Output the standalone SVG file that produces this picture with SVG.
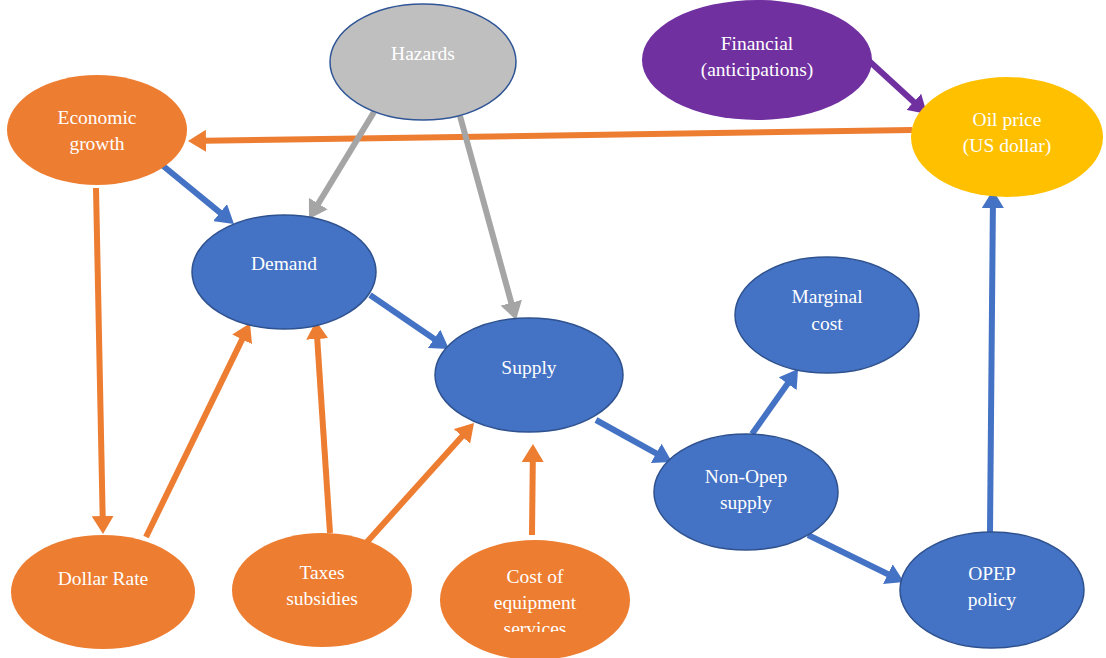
<svg xmlns="http://www.w3.org/2000/svg" width="1106" height="658" viewBox="0 0 1106 658">
<style>
.lbl{font-family:"Liberation Serif","Times New Roman",serif;font-size:19.5px;fill:#ffffff;text-anchor:middle}
.c{fill:none;stroke-width:6}
.o{stroke:#ED7D31}.b{stroke:#4472C4}.g{stroke:#A5A5A5}.p{stroke:#7030A0}
</style>
<defs>
<marker id="ao" markerUnits="userSpaceOnUse" viewBox="0 0 18 22" markerWidth="18" markerHeight="22" refX="2" refY="11" orient="auto"><path d="M0,0 L18,11 L0,22 z" fill="#ED7D31"/></marker>
<marker id="ab" markerUnits="userSpaceOnUse" viewBox="0 0 18 22" markerWidth="18" markerHeight="22" refX="2" refY="11" orient="auto"><path d="M0,0 L18,11 L0,22 z" fill="#4472C4"/></marker>
<marker id="ag" markerUnits="userSpaceOnUse" viewBox="0 0 18 22" markerWidth="18" markerHeight="22" refX="2" refY="11" orient="auto"><path d="M0,0 L18,11 L0,22 z" fill="#A5A5A5"/></marker>
<marker id="ap" markerUnits="userSpaceOnUse" viewBox="0 0 18 22" markerWidth="18" markerHeight="22" refX="2" refY="11" orient="auto"><path d="M0,0 L18,11 L0,22 z" fill="#7030A0"/></marker>
<clipPath id="costclip"><rect x="430" y="530" width="210" height="102"/></clipPath>
</defs>
<rect width="1106" height="658" fill="#ffffff"/>
<g id="connectors">
<line class="c o" x1="912" y1="130" x2="204" y2="140.8" marker-end="url(#ao)"/>
<line class="c p" x1="868" y1="60" x2="915.2" y2="103.2" marker-end="url(#ap)"/>
<line class="c b" x1="162" y1="165" x2="221.6" y2="213.9" marker-end="url(#ab)"/>
<line class="c g" x1="374" y1="112" x2="317.3" y2="205.3" marker-end="url(#ag)"/>
<line class="c g" x1="460" y1="116" x2="511.8" y2="304.6" marker-end="url(#ag)"/>
<line class="c b" x1="370" y1="295" x2="435.8" y2="340" marker-end="url(#ab)"/>
<line class="c b" x1="596" y1="420" x2="658" y2="454.3" marker-end="url(#ab)"/>
<line class="c b" x1="752" y1="434" x2="788.8" y2="382.1" marker-end="url(#ab)"/>
<line class="c b" x1="808" y1="535" x2="889.6" y2="575" marker-end="url(#ab)"/>
<line class="c b" x1="990" y1="532" x2="992.9" y2="206" marker-end="url(#ab)"/>
<line class="c o" x1="96" y1="188" x2="102.7" y2="518" marker-end="url(#ao)"/>
<line class="c o" x1="146" y1="537" x2="243" y2="337.6" marker-end="url(#ao)"/>
<line class="c o" x1="330" y1="533" x2="317.1" y2="337" marker-end="url(#ao)"/>
<line class="c o" x1="367" y1="542" x2="463.3" y2="434.9" marker-end="url(#ao)"/>
<line class="c o" x1="532" y1="535" x2="532.8" y2="460" marker-end="url(#ao)"/>
</g>
<g id="hazards"><ellipse cx="423" cy="62" rx="93" ry="58" fill="#BFBFBF" stroke="#2F5597" stroke-width="1.5"/><text class="lbl" x="423" y="60">Hazards</text></g>
<g id="economic-growth"><ellipse cx="97" cy="130" rx="90" ry="55" fill="#ED7D31"/><text class="lbl" x="97" y="124">Economic</text><text class="lbl" x="97" y="150">growth</text></g>
<g id="financial"><ellipse cx="757" cy="60" rx="115" ry="60" fill="#7030A0"/><text class="lbl" x="757" y="50">Financial</text><text class="lbl" x="757" y="76">(anticipations)</text></g>
<g id="oil-price"><ellipse cx="1007" cy="137" rx="96" ry="60" fill="#FFC000"/><text class="lbl" x="1007" y="126">Oil price</text><text class="lbl" x="1007" y="152">(US dollar)</text></g>
<g id="demand"><ellipse cx="284" cy="272" rx="92" ry="57" fill="#4472C4" stroke="#2F528F" stroke-width="1.5"/><text class="lbl" x="284" y="270">Demand</text></g>
<g id="marginal-cost"><ellipse cx="827" cy="315" rx="92" ry="58" fill="#4472C4" stroke="#2F528F" stroke-width="1.5"/><text class="lbl" x="827" y="303">Marginal</text><text class="lbl" x="827" y="330">cost</text></g>
<g id="supply"><ellipse cx="529" cy="375" rx="94" ry="57" fill="#4472C4" stroke="#2F528F" stroke-width="1.5"/><text class="lbl" x="529" y="374">Supply</text></g>
<g id="non-opep-supply"><ellipse cx="746" cy="492" rx="92" ry="58" fill="#4472C4" stroke="#2F528F" stroke-width="1.5"/><text class="lbl" x="746" y="483">Non-Opep</text><text class="lbl" x="746" y="509">supply</text></g>
<g id="opep-policy"><ellipse cx="992" cy="590" rx="92" ry="58" fill="#4472C4" stroke="#2F528F" stroke-width="1.5"/><text class="lbl" x="992" y="580">OPEP</text><text class="lbl" x="992" y="606">policy</text></g>
<g id="dollar-rate"><ellipse cx="103" cy="592" rx="92" ry="57" fill="#ED7D31"/><text class="lbl" x="103" y="585">Dollar Rate</text></g>
<g id="taxes-subsidies"><ellipse cx="322" cy="590" rx="90" ry="57" fill="#ED7D31"/><text class="lbl" x="322" y="579">Taxes</text><text class="lbl" x="322" y="605">subsidies</text></g>
<g id="cost-of-equipment"><ellipse cx="535" cy="600" rx="95" ry="60" fill="#ED7D31"/><g clip-path="url(#costclip)"><text class="lbl" x="535" y="583">Cost of</text><text class="lbl" x="535" y="609">equipment</text><text class="lbl" x="535" y="635">services</text></g></g>
</svg>
